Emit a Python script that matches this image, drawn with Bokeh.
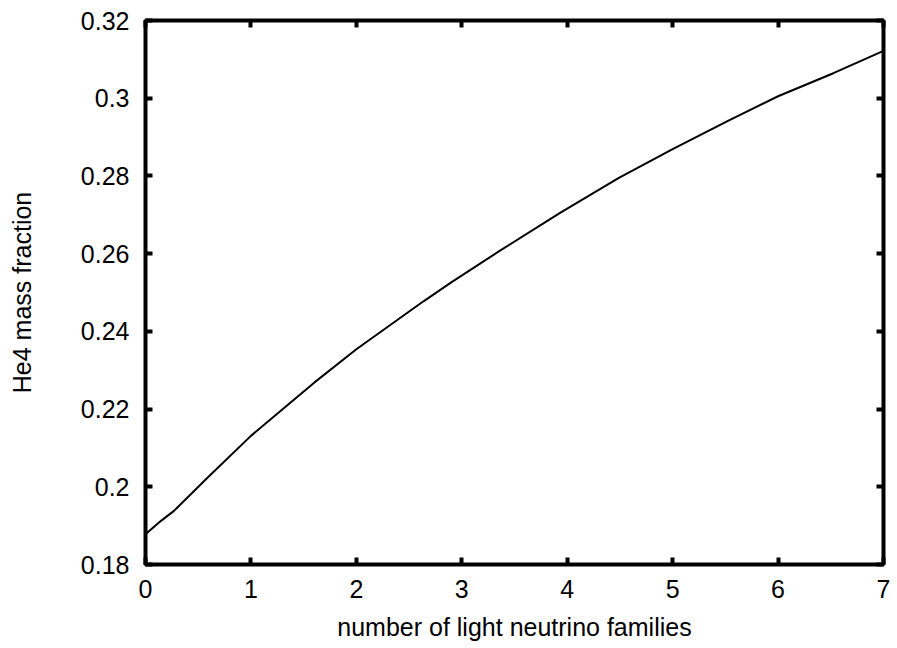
from bokeh.plotting import figure
from bokeh.models import LinearAxis, FixedTicker, Range1d
from bokeh.embed import file_html
from bokeh.resources import INLINE

# Data
n_nu = [0.0, 0.15, 0.27, 0.59, 1.0, 1.32, 1.6, 2.0, 2.64, 2.9, 3.37, 3.94,
        4.49, 5.0, 5.52, 6.0, 6.53, 7.0]
yp = [0.1878, 0.1913, 0.1938, 0.2024, 0.2131, 0.2204, 0.2268, 0.2354, 0.2478,
      0.2526, 0.2609, 0.2706, 0.2795, 0.2869, 0.2941, 0.3005, 0.3065, 0.3122]

x_ticks = [0, 1, 2, 3, 4, 5, 6, 7]
x_tick_labels = ["0", "1", "2", "3", "4", "5", "6", "7"]
y_ticks = [0.18, 0.20, 0.22, 0.24, 0.26, 0.28, 0.30, 0.32]
y_tick_labels = ["0.18", "0.2", "0.22", "0.24", "0.26", "0.28", "0.3", "0.32"]

FONT = "Liberation Sans"
FS = "25px"

p = figure(width=897, height=648, output_backend="svg", toolbar_location=None,
           x_range=Range1d(0, 7), y_range=Range1d(0.18, 0.32),
           x_axis_location=None, y_axis_location=None,
           min_border_left=145, min_border_right=14, min_border_top=20,
           min_border_bottom=84)
p.background_fill_color = "white"
p.border_fill_color = "white"
p.outline_line_color = "black"
p.outline_line_width = 4
p.xgrid.visible = False
p.ygrid.visible = False

p.line(n_nu, yp, line_color="black", line_width=2)


def style(ax, ticks, labels, show_labels):
    ax.ticker = FixedTicker(ticks=ticks)
    ax.minor_tick_line_color = None
    ax.axis_line_color = None
    ax.major_tick_in = 7
    ax.major_tick_out = 0
    ax.major_tick_line_width = 4
    ax.major_tick_line_color = "black"
    if show_labels:
        ax.major_label_overrides = {t: l for t, l in zip(ticks, labels)}
        ax.major_label_text_font = FONT
        ax.major_label_text_font_size = FS
        ax.major_label_text_color = "black"
    else:
        ax.major_label_text_font_size = "0px"
        ax.major_label_text_alpha = 0
        ax.major_label_standoff = 0


xb = LinearAxis()
style(xb, x_ticks, x_tick_labels, True)
xb.major_label_standoff = 15
xb.axis_label = "number of light neutrino families"
xb.axis_label_text_font = FONT
xb.axis_label_text_font_size = FS
xb.axis_label_text_font_style = "normal"
xb.axis_label_text_color = "black"
xb.axis_label_standoff = 12
p.add_layout(xb, "below")

yl = LinearAxis()
style(yl, y_ticks, y_tick_labels, True)
yl.major_label_standoff = 16
yl.axis_label = "He4 mass fraction"
yl.axis_label_text_font = FONT
yl.axis_label_text_font_size = FS
yl.axis_label_text_font_style = "normal"
yl.axis_label_text_color = "black"
yl.axis_label_standoff = 42
p.add_layout(yl, "left")

xt = LinearAxis()
style(xt, x_ticks, x_tick_labels, False)
p.add_layout(xt, "above")

yr = LinearAxis()
style(yr, y_ticks, y_tick_labels, False)
p.add_layout(yr, "right")

open("out.html", "w").write(file_html(p, INLINE))
